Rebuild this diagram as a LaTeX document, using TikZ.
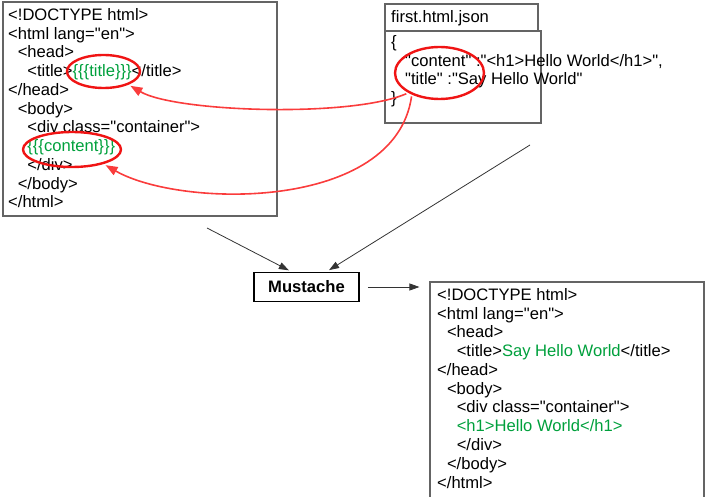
\documentclass[tikz,border=0pt]{standalone}
\usepackage{fontspec}
\setmainfont{Liberation Sans}[Ligatures=TeXOff]
\usetikzlibrary{arrows.meta,shapes.geometric}
\definecolor{codegreen}{RGB}{0,160,60}
\definecolor{markred}{RGB}{240,20,20}
\definecolor{linkred}{RGB}{250,60,60}
\definecolor{boxgray}{RGB}{100,100,100}

\begin{document}
\begin{tikzpicture}[x=1pt,y=-1pt,
  font=\fontsize{16.6}{18.75}\selectfont,
  frame/.style={draw=boxgray,line width=1.1pt,inner sep=0pt},
  codeline/.style={anchor=base west,inner sep=0pt},
  hlring/.style={ellipse,draw=markred,line width=2.4pt,inner sep=0pt,outer sep=3pt},
  flow/.style={-{Triangle[length=10pt,width=7pt]},draw=black!80,line width=0.8pt},
  link/.style={-{Triangle[length=12pt,width=9pt]},draw=linkred,line width=1.6pt}]

  \useasboundingbox (0,0) rectangle (705,497);

  % boxes
  \node[frame,minimum width=274pt,minimum height=214pt] (tmpl) at (140,109) {};
  \node[frame,minimum width=153pt,minimum height=27pt] (jhead) at (461.5,17.5) {};
  \node[frame,minimum width=156pt,minimum height=92pt] (json) at (463,77) {};
  \node[frame,minimum width=274pt,minimum height=218pt] (out) at (567,391) {};

  % template
  \foreach \lv/\txt [count=\i from 0] in {0/{<!DOCTYPE html>}, 0/{<html lang="en">},
      1/{<head>}, 2/{<title>\textcolor{codegreen}{\{\{\{title\}\}\}}</title>},
      0/{</head>}, 1/{<body>}, 2/{<div class="container">},
      2/{\textcolor{codegreen}{\{\{\{content\}\}\}}}, 2/{</div>}, 1/{</body>}, 0/{</html>}}{
    \node[codeline] (t\i) at (8+9.6*\lv, 20.5+18.75*\i) {\txt};
  }

  % data
  \node[codeline] (jh) at (391,22.5) {first.html.json};
  \foreach \dx/\txt [count=\i from 0] in {0/{\{}, 14/{"content" :"<h1>Hello World</h1>",},
      14/{"title" :"Say Hello World"}, 0/{\}}}{
    \node[codeline] (j\i) at (391+\dx, 48+18.5*\i) {\txt};
  }

  % result
  \foreach \lv/\txt [count=\i from 0] in {0/{<!DOCTYPE html>}, 0/{<html lang="en">},
      1/{<head>}, 2/{<title>\textcolor{codegreen}{Say Hello World}</title>},
      0/{</head>}, 1/{<body>}, 2/{<div class="container">},
      2/{\textcolor{codegreen}{<h1>Hello World</h1>}}, 2/{</div>}, 1/{</body>}, 0/{</html>}}{
    \node[codeline] (o\i) at (437+9.8*\lv, 300.5+18.75*\i) {\txt};
  }

  % highlights
  \node[hlring,minimum width=73pt,minimum height=33pt] (eTitle) at (103.5,71.5) {};
  \node[hlring,minimum width=98pt,minimum height=35pt] (eContent) at (72,149.5) {};
  \node[hlring,minimum width=89pt,minimum height=52pt] (eJson) at (439.5,73) {};

  \draw[link] (eJson.212) .. controls (350,118) and (175,112) .. (eTitle.332);
  \draw[link] (eJson.220) .. controls (395,212) and (180,208) .. (eContent.335);

  \node[draw,line width=1.6pt,minimum width=105pt,minimum height=29pt,inner sep=0pt,
    font=\fontsize{16.6}{18.75}\selectfont\bfseries] (must) at (306.5,287) {Mustache};

  \coordinate (tmplEnd) at (207,228);
  \coordinate (jsonEnd) at (530,145);
  \draw[flow,shorten >=3pt] (tmplEnd) -- ([xshift=-15pt]must.north);
  \draw[flow,shorten >=3pt] (jsonEnd) -- ([xshift=20pt]must.north);
  \draw[flow,shorten <=8pt,shorten >=10pt] (must.east) -- (must.east -| out.west);

\end{tikzpicture}
\end{document}
